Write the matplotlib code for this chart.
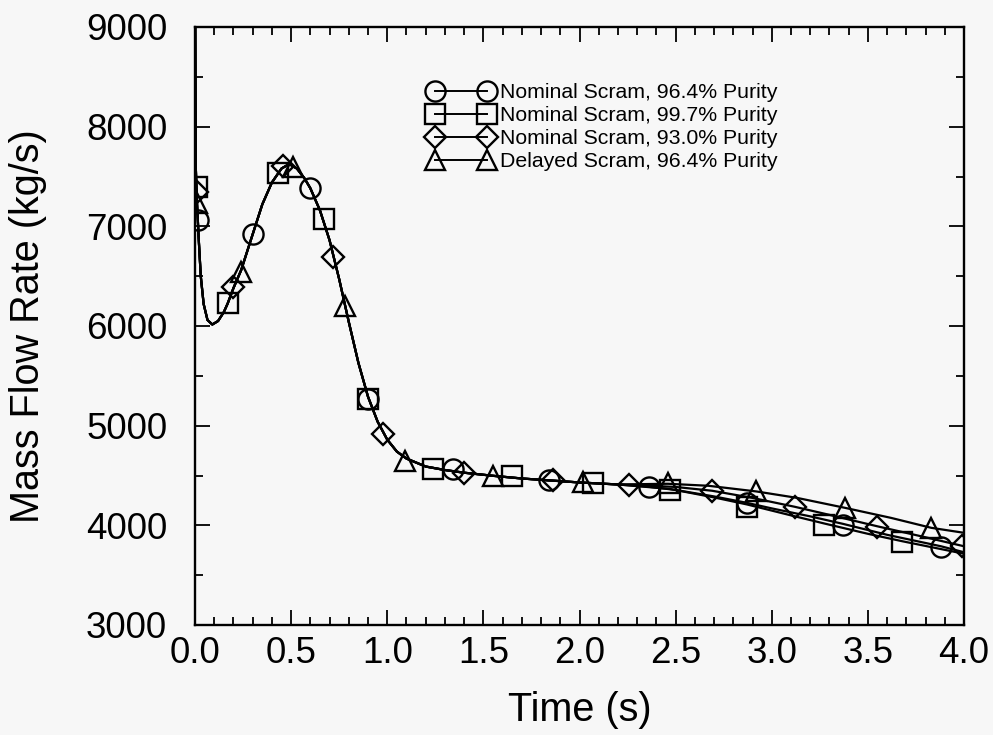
import matplotlib
matplotlib.use("Agg")
import matplotlib.pyplot as plt
from matplotlib.ticker import MultipleLocator

plt.rcParams['font.family'] = ['Liberation Sans', 'DejaVu Sans']

# Shared early transient (all four runs overlap up to ~2.2 s)
early_t = [0.0, 0.004, 0.01, 0.02, 0.03, 0.045, 0.065, 0.09, 0.12, 0.15, 0.17, 0.20,
           0.24, 0.30, 0.35, 0.40, 0.45, 0.49, 0.53, 0.57, 0.60, 0.65, 0.70, 0.75,
           0.80, 0.85, 0.90, 0.95, 1.00, 1.05, 1.10, 1.20, 1.30, 1.40, 1.55, 1.70,
           1.85, 2.00, 2.20]
early_v = [9600, 7600, 7250, 6850, 6500, 6220, 6060, 6015, 6050, 6140, 6226, 6380,
           6560, 6920, 7220, 7440, 7580, 7625, 7580, 7480, 7382, 7160, 6860, 6470,
           6040, 5630, 5290, 5040, 4860, 4740, 4670, 4590, 4555, 4528, 4497, 4470,
           4450, 4430, 4410]

# Late-time tails per run
circ_tail_t = [2.36, 2.50, 2.70, 2.87, 3.00, 3.20, 3.37, 3.60, 3.88, 4.00]
circ_tail_v = [4387, 4355, 4290, 4226, 4170, 4090, 4015, 3905, 3790, 3730]
sq_tail_t = [2.47, 2.70, 2.87, 3.10, 3.27, 3.50, 3.68, 4.00]
sq_tail_v = [4365, 4280, 4210, 4100, 4020, 3915, 3840, 3715]
dia_tail_t = [2.26, 2.50, 2.69, 2.90, 3.12, 3.30, 3.55, 3.80, 4.00]
dia_tail_v = [4407, 4385, 4347, 4275, 4186, 4105, 3990, 3880, 3790]
tri_tail_t = [2.46, 2.67, 2.92, 3.13, 3.38, 3.62, 3.83, 4.00]
tri_tail_v = [4417, 4397, 4340, 4276, 4176, 4075, 3975, 3925]

# Symbol positions
circ_t = [0.016, 0.30, 0.60, 0.90, 1.34, 1.84, 2.36, 2.87, 3.37, 3.88]
circ_v = [7060, 6920, 7382, 5271, 4568, 4450, 4387, 4226, 4005, 3784]
sq_t = [0.01, 0.17, 0.43, 0.67, 0.90, 1.24, 1.65, 2.07, 2.47, 2.87, 3.27, 3.68]
sq_v = [7392, 6226, 7533, 7070, 5271, 4568, 4497, 4420, 4357, 4186, 4005, 3834]
dia_t = [0.01, 0.20, 0.46, 0.72, 0.98, 1.40, 1.86, 2.26, 2.69, 3.12, 3.55, 3.99]
dia_v = [7340, 6387, 7610, 6690, 4920, 4528, 4450, 4407, 4347, 4186, 3985, 3794]
tri_t = [0.01, 0.24, 0.51, 0.78, 1.09, 1.55, 2.02, 2.46, 2.92, 3.38, 3.83]
tri_v = [7231, 6538, 7600, 6196, 4648, 4497, 4430, 4427, 4347, 4176, 3975]

labels = ["Nominal Scram, 96.4% Purity", "Nominal Scram, 99.7% Purity",
          "Nominal Scram, 93.0% Purity", "Delayed Scram, 96.4% Purity"]

bg = '#f7f7f7'
fig = plt.figure(figsize=(9.93, 7.35), dpi=100, facecolor=bg)
ax = fig.add_axes([195 / 993, 1 - 625 / 735, 769 / 993, 598 / 735], facecolor=bg)

series = [
    (circ_tail_t, circ_tail_v, circ_t, circ_v, 'o', 14.5),
    (sq_tail_t, sq_tail_v, sq_t, sq_v, 's', 14),
    (dia_tail_t, dia_tail_v, dia_t, dia_v, 'D', 11.5),
    (tri_tail_t, tri_tail_v, tri_t, tri_v, '^', 14.5),
]

handles = []
for (lt, lv, mt, mv, mk, ms), lab in zip(series, labels):
    ax.plot(early_t + lt, early_v + lv, color='black', lw=1.6)
    ax.plot(mt, mv, ls='none', marker=mk, ms=ms, mfc='none', mec='black', mew=1.7)
    h, = ax.plot([], [], color='black', lw=1.4, marker=mk, ms=ms, mfc='none',
                 mec='black', mew=1.7, label=lab)
    handles.append(h)

ax.set_xlim(0, 4)
ax.set_ylim(3000, 9000)
ax.xaxis.set_major_locator(MultipleLocator(0.5))
ax.xaxis.set_minor_locator(MultipleLocator(0.1))
ax.yaxis.set_major_locator(MultipleLocator(1000))
ax.yaxis.set_minor_locator(MultipleLocator(500))
ax.xaxis.set_major_formatter(plt.FormatStrFormatter('%.1f'))

ax.tick_params(which='both', direction='in', top=True, right=True, width=1.3)
ax.tick_params(which='major', length=11)
ax.tick_params(which='minor', length=6)
ax.tick_params(axis='x', labelsize=26.5, pad=8)
ax.tick_params(axis='y', labelsize=26.5, pad=20)
for s in ax.spines.values():
    s.set_linewidth(1.7)

ax.set_xlabel("Time (s)", fontsize=28.5, labelpad=14)
ax.set_ylabel("Mass Flow Rate (kg/s)", fontsize=28.5, labelpad=28)

ax.legend(handles=handles, loc='upper left', bbox_to_anchor=(428.6 / 993, 1 - 83.5 / 735),
          bbox_transform=fig.transFigure, frameon=False, fontsize=15.3,
          numpoints=2, handlelength=3.05, handletextpad=0.31, labelspacing=0.18,
          borderpad=0, borderaxespad=0)

fig.savefig("out.png", dpi=100, facecolor=bg)
